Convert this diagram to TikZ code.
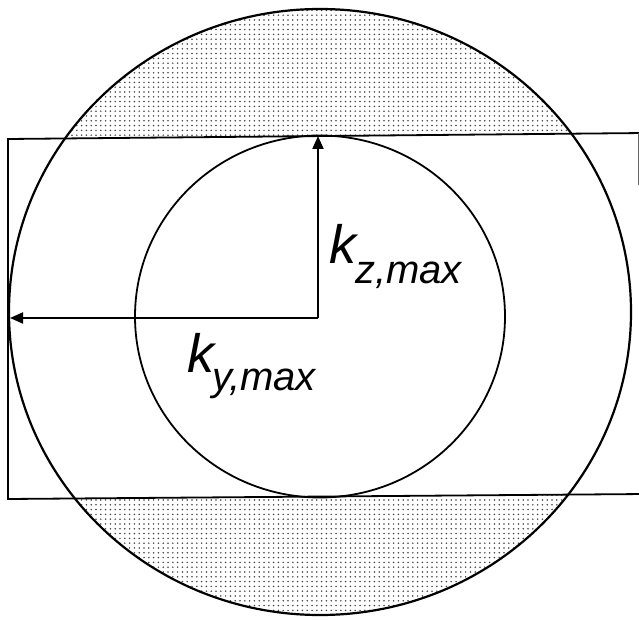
\documentclass[tikz,border=0pt]{standalone}
\usepackage{fontspec}
\newfontfamily\arialf{Liberation Sans}
\usetikzlibrary{arrows.meta,patterns.meta}
\begin{document}
\begin{tikzpicture}[x=1pt,y=-1pt,
  outline/.style={draw=black,line width=2.2pt},
  thin outline/.style={draw=black,line width=1.8pt},
  vec/.style={draw=black,line width=1.9pt,-{Triangle[length=13pt,width=11pt]}},
  dotted fill/.style={pattern={Dots[distance=4.8pt,radius=0.85pt]},pattern color=black!75},
  lbl/.style={inner sep=0pt,anchor=base west,font=\arialf\itshape}]
\useasboundingbox (0,0) rectangle (639,620);
% shaded caps
\begin{scope}
  \clip (320,312) ellipse [x radius=311pt, y radius=303pt];
  \fill[dotted fill] (0,0) -- (639,0) -- (639,133) -- (8,139) -- cycle;
  \fill[dotted fill] (8,499) -- (639,494) -- (639,620) -- (0,620) -- cycle;
\end{scope}
% rectangle
\draw[thin outline] (645,133) -- (8,139) -- (8,499) -- (645,494);
\draw[line width=0.8pt,draw=black!60] (638,133) -- (638,185);
% outer circle
\draw[outline] (320,312) ellipse [x radius=311pt, y radius=303pt];
% inner circle
\draw[thin outline] (320,316.5) ellipse [x radius=185pt, y radius=181pt];
% vectors
\coordinate (o) at (318,318);
\coordinate (top) at (318,136);
\coordinate (lft) at (10,318);
\draw[vec] (o) -- (top);
\draw[vec] (o) -- (lft);
% labels
\node[lbl,font=\arialf\itshape\fontsize{54}{60}\selectfont] (kz) at (329,263) {k};
\node[lbl,font=\arialf\itshape\fontsize{40}{46}\selectfont] (kzs) at (355,283) {z,max};
\node[lbl,font=\arialf\itshape\fontsize{54}{60}\selectfont] (ky) at (187,372) {k};
\node[lbl,font=\arialf\itshape\fontsize{40}{46}\selectfont] (kys) at (212,390) {y,max};
\end{tikzpicture}
\end{document}
